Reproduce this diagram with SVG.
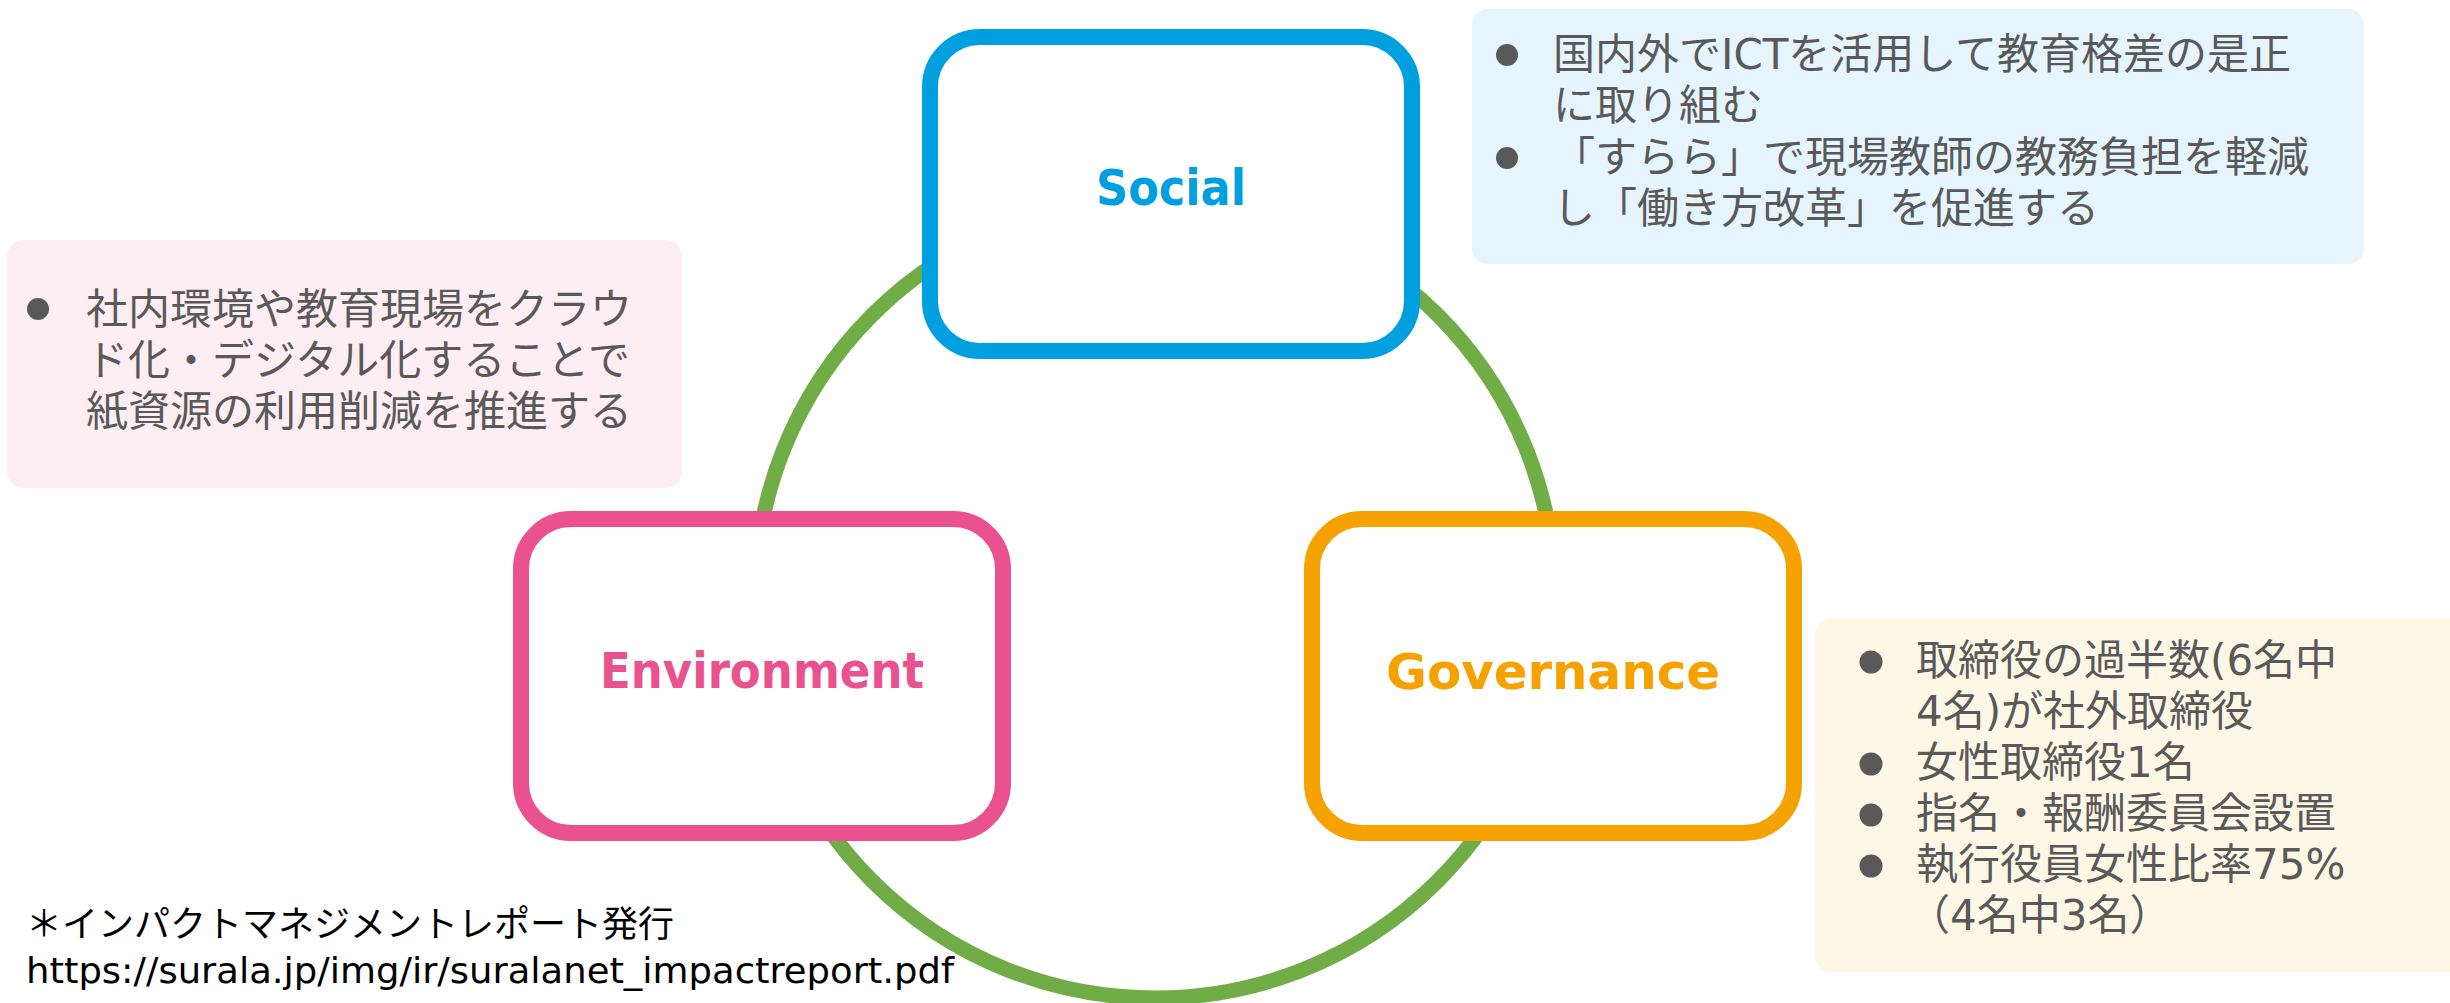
<svg xmlns="http://www.w3.org/2000/svg" width="2450" height="1003" viewBox="0 0 2450 1003">
<style>
.node{fill:#FFFFFF;stroke-width:16}
.lbl{font-family:"DejaVu Sans","Verdana",sans-serif;font-weight:bold;font-size:49px;text-anchor:middle}
.info{font-family:"DejaVu Sans","Noto Sans CJK JP",sans-serif;font-size:42px;fill:#595959}
.bul{fill:#595959}
.foot{font-family:"DejaVu Sans","Noto Sans CJK JP",sans-serif;font-size:36px;fill:#000000}
</style>
<rect width="2450" height="1003" fill="#FFFFFF"/>
<g id="connectors">
<circle cx="1155" cy="598" r="400" fill="none" stroke="#70AD47" stroke-width="15"/>
</g>
<g id="social">
<rect class="node" x="930" y="37" width="482" height="314" rx="50" stroke="#009FDF"/>
<text class="lbl" x="1171" y="205" fill="#009FDF" textLength="150" lengthAdjust="spacingAndGlyphs">Social</text>
</g>
<g id="environment">
<rect class="node" x="521" y="519" width="482" height="314" rx="50" stroke="#E9528E"/>
<text class="lbl" x="762" y="688" fill="#E9528E" textLength="324" lengthAdjust="spacingAndGlyphs">Environment</text>
</g>
<g id="governance">
<rect class="node" x="1312" y="519" width="482" height="314" rx="50" stroke="#F5A200"/>
<text class="lbl" x="1553" y="689" fill="#F5A200" textLength="334" lengthAdjust="spacingAndGlyphs">Governance</text>
</g>
<g id="social-notes">
<rect x="1472" y="9" width="892" height="255" rx="16" fill="#E6F4FD"/>
<circle class="bul" cx="1507" cy="55" r="11"/>
<circle class="bul" cx="1507" cy="158" r="11"/>
<text class="info" x="1553" y="69">国内外でICTを活用して教育格差の是正</text>
<text class="info" x="1553" y="120">に取り組む</text>
<text class="info" x="1553" y="172">「すらら」で現場教師の教務負担を軽減</text>
<text class="info" x="1553" y="223">し「働き方改革」を促進する</text>
</g>
<g id="environment-notes">
<rect x="7" y="240" width="675" height="248" rx="16" fill="#FDEEF3"/>
<circle class="bul" cx="38" cy="309" r="11"/>
<text class="info" x="86" y="324">社内環境や教育現場をクラウ</text>
<text class="info" x="86" y="375">ド化・デジタル化することで</text>
<text class="info" x="86" y="426">紙資源の利用削減を推進する</text>
</g>
<g id="governance-notes">
<rect x="1815" y="618" width="660" height="354" rx="16" fill="#FEF7E6"/>
<circle class="bul" cx="1871" cy="662" r="11.5"/>
<circle class="bul" cx="1871" cy="764" r="11.5"/>
<circle class="bul" cx="1871" cy="815" r="11.5"/>
<circle class="bul" cx="1871" cy="866" r="11.5"/>
<text class="info" x="1916" y="675">取締役の過半数(6名中</text>
<text class="info" x="1916" y="726">4名)が社外取締役</text>
<text class="info" x="1916" y="777">女性取締役1名</text>
<text class="info" x="1916" y="828">指名・報酬委員会設置</text>
<text class="info" x="1916" y="879">執行役員女性比率75%</text>
<text class="info" x="1908" y="930">（4名中3名）</text>
</g>
<g id="footnote">
<text class="foot" x="26" y="937">＊インパクトマネジメントレポート発行</text>
<text class="foot" x="26" y="983" textLength="928" lengthAdjust="spacingAndGlyphs">https://surala.jp/img/ir/suralanet_impactreport.pdf</text>
</g>
</svg>
